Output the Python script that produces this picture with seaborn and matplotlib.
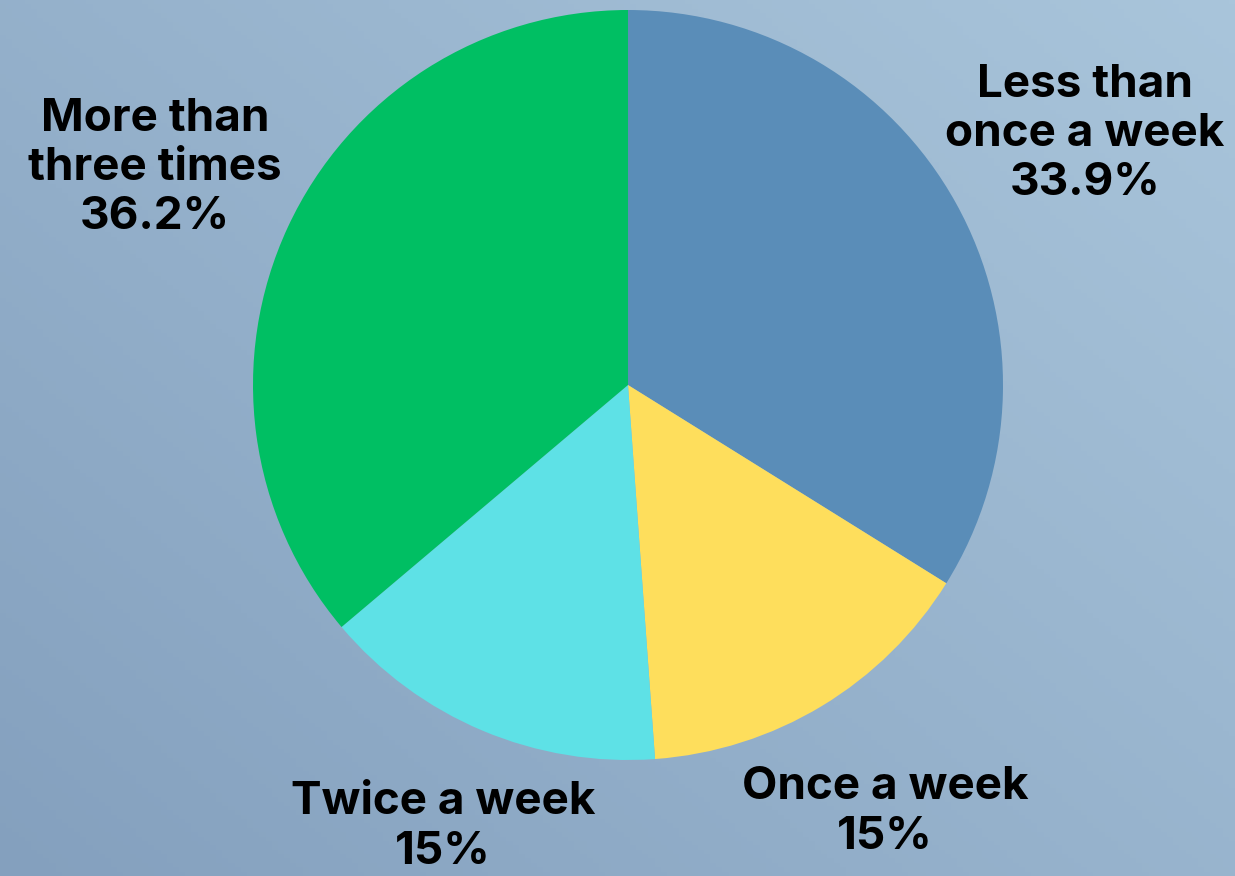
import matplotlib.pyplot as plt
import numpy as np
import seaborn as sns

labels = ["Less than\nonce a week", "Once a week", "Twice a week", "More than\nthree times"]
shares = [33.9, 15, 15, 36.2]
colors = ["#5a8db8", "#fede5c", "#5ee1e6", "#00bf63"]

sns.set_style("white")
plt.rcParams['font.family'] = ['Inter', 'DejaVu Sans']

W, H, R = 1235, 876, 375
cx, cy = 628, 385

fig = plt.figure(figsize=(12.35, 8.76), dpi=100)

# gradient background, darker bottom-left to lighter top-right
bg = fig.add_axes([0, 0, 1, 1], zorder=0)
gx, gy = np.meshgrid(np.linspace(0, 1, 200), np.linspace(0, 1, 200))
t = (gx * 0.55 + gy * 0.45)
c0 = np.array([0x84, 0xa0, 0xbe]) / 255
c1 = np.array([0xa9, 0xc5, 0xdb]) / 255
img = c0 + (c1 - c0) * t[..., None]
bg.imshow(img, origin='lower', extent=[0, 1, 0, 1], aspect='auto')
bg.axis('off')

ax = fig.add_axes([0, 0, 1, 1], zorder=1)
ax.patch.set_alpha(0)
ax.pie(shares, colors=sns.color_palette(colors), startangle=90, counterclock=False,
       radius=1, wedgeprops=dict(linewidth=0))
ax.set_xlim(-cx / R, (W - cx) / R)
ax.set_ylim(-(H - cy) / R, cy / R)
ax.set_aspect('equal')
ax.axis('off')


def px(x, y):
    return (x - cx) / R, (cy - y) / R


label_pos = [(1085, 134), (885, 812), (443, 827), (155, 168)]
for lab, val, (x, y) in zip(labels, shares, label_pos):
    txt = f"{lab}\n{val:g}%"
    ax.text(*px(x, y), txt, ha='center', va='center', fontsize=33,
            fontweight='bold', color='black', linespacing=1.22)

plt.savefig('out.png', dpi=100)
